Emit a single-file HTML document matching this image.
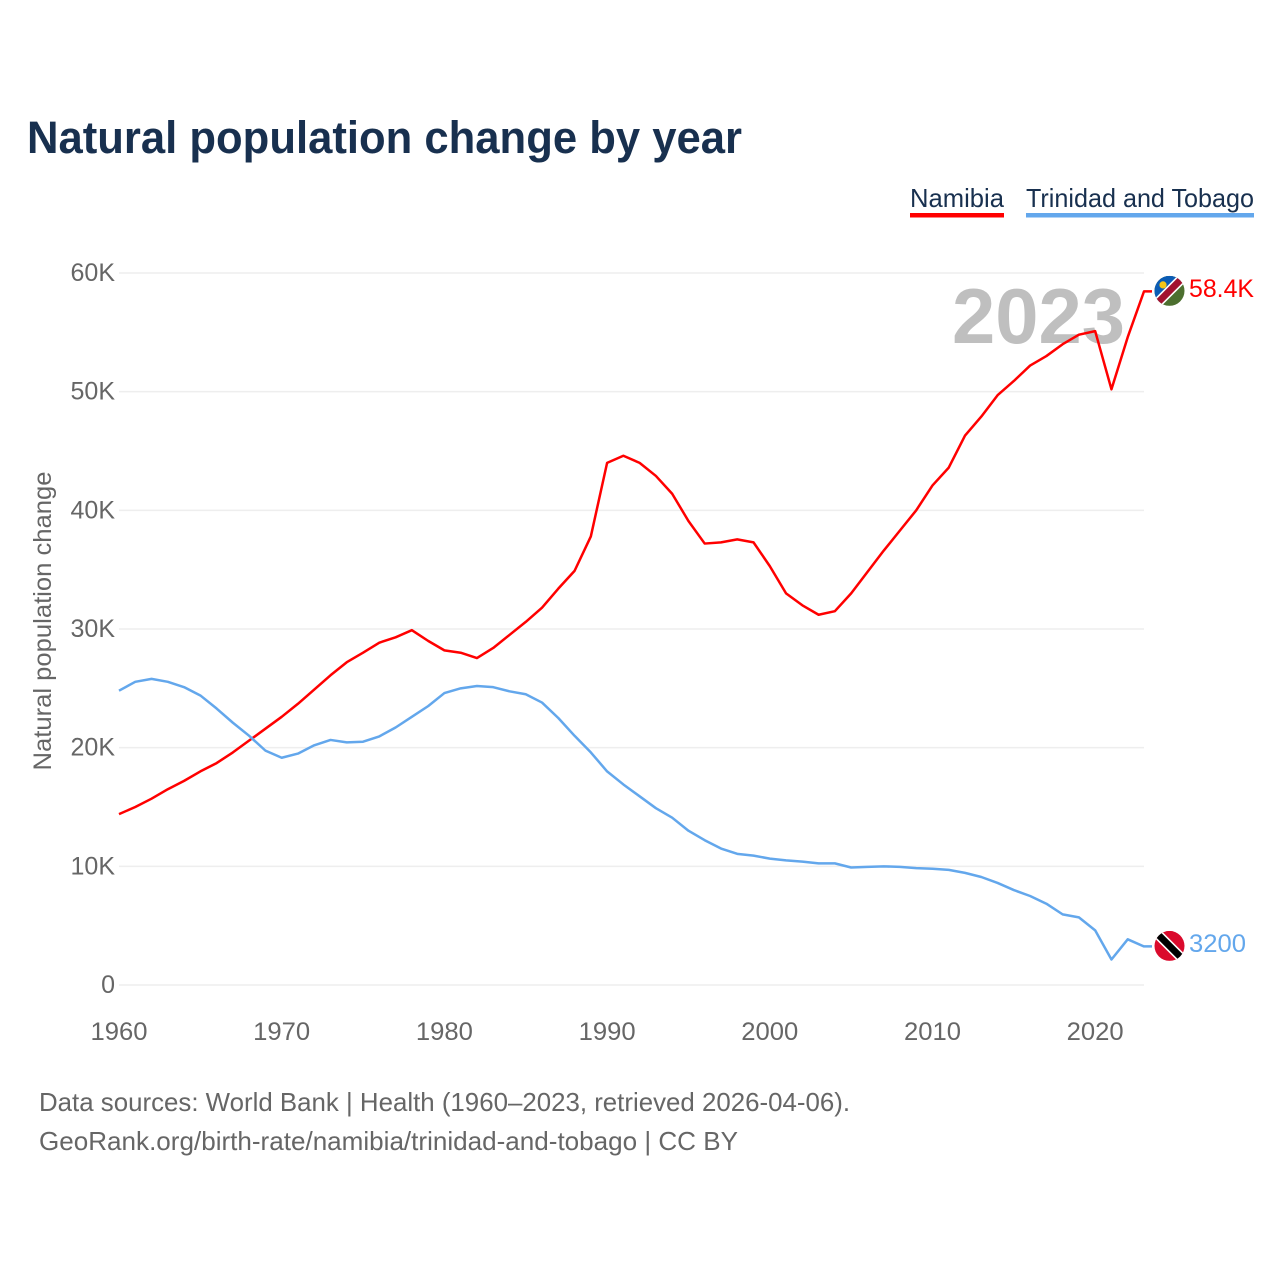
<!DOCTYPE html>
<html lang="en">
<head>
<meta charset="utf-8">
<title>Natural population change by year</title>
<style>
html,body{margin:0;padding:0;background:#fff;}
svg{display:block;font-family:"Liberation Sans",sans-serif;}
.tick{font-size:25px;fill:#666;}
.foot{font-size:26px;fill:#666;}
</style>
</head>
<body>
<svg id="chart" xmlns="http://www.w3.org/2000/svg" width="1280" height="1280" viewBox="0 0 1280 1280">
<rect width="1280" height="1280" fill="#fff"/>
<text x="27" y="153" font-size="45" font-weight="700" fill="#18304f" textLength="715" lengthAdjust="spacingAndGlyphs">Natural population change by year</text>

<g>
<g>
<text x="910" y="207" font-size="26" fill="#18304f" textLength="94" lengthAdjust="spacingAndGlyphs">Namibia</text>
<rect x="910" y="213" width="94" height="4.5" fill="#ff0000"/>
</g>
<g>
<text x="1026" y="207" font-size="26" fill="#18304f" textLength="228" lengthAdjust="spacingAndGlyphs">Trinidad and Tobago</text>
<rect x="1026" y="213" width="228" height="4.5" fill="#63a7ec"/>
</g>
</g>

<g id="grid"></g>
<g id="yticks"></g>
<g id="xticks"></g>

<text transform="translate(51,621) rotate(-90)" text-anchor="middle" font-size="25" fill="#666" textLength="299" lengthAdjust="spacingAndGlyphs">Natural population change</text>

<text id="year-label" x="952" y="343" font-size="78" font-weight="700" fill="#bfbfbf" textLength="173" lengthAdjust="spacingAndGlyphs">2023</text>

<g id="series"></g>

<defs>
<clipPath id="flag-clip"><circle cx="0" cy="0" r="15"/></clipPath>
</defs>

<g id="flag-namibia">
<g clip-path="url(#flag-clip)">
<rect x="-15" y="-15" width="30" height="30" fill="#4c6f2f"/>
<polygon points="-15,-15 15,-15 -15,15" fill="#0b5cb5"/>
<rect x="-24" y="-5" width="48" height="10" fill="#ffffff" transform="rotate(-45)"/>
<rect x="-24" y="-3.4" width="48" height="6.8" fill="#a2122f" transform="rotate(-45)"/>
<circle cx="-6.5" cy="-6" r="3.6" fill="#f5c518"/>
</g>
</g>

<g id="flag-trinidad">
<g clip-path="url(#flag-clip)">
<rect x="-15" y="-15" width="30" height="30" fill="#da0a2c"/>
<rect x="-24" y="-5" width="48" height="10" fill="#ffffff" transform="rotate(45)"/>
<rect x="-24" y="-3.4" width="48" height="6.8" fill="#000000" transform="rotate(45)"/>
</g>
</g>

<text id="value-namibia" x="1189" font-size="25" fill="#ff0000" textLength="65" lengthAdjust="spacingAndGlyphs">58.4K</text>
<text id="value-trinidad" x="1189" font-size="25" fill="#63a7ec" textLength="57" lengthAdjust="spacingAndGlyphs">3200</text>

<text class="foot" x="39" y="1111" textLength="811" lengthAdjust="spacingAndGlyphs">Data sources: World Bank | Health (1960–2023, retrieved 2026-04-06).</text>
<text class="foot" x="39" y="1150" textLength="699" lengthAdjust="spacingAndGlyphs">GeoRank.org/birth-rate/namibia/trinidad-and-tobago | CC BY</text>
</svg>

<script>
const startYear = 1960;
const endYear = 2023;
const xTickYears = [1960, 1970, 1980, 1990, 2000, 2010, 2020];
const yTickValues = [0, 10, 20, 30, 40, 50, 60];
const yTickLabels = ['0', '10K', '20K', '30K', '40K', '50K', '60K'];
const namibiaValues = [
  14.4, 15.0, 15.7, 16.5, 17.2, 18.0, 18.7, 19.6, 20.6, 21.6,
  22.6, 23.7, 24.9, 26.1, 27.2, 28.0, 28.85, 29.3, 29.9, 29.0,
  28.2, 28.0, 27.55, 28.4, 29.5, 30.6, 31.8, 33.4, 34.9, 37.8,
  44.0, 44.6, 44.0, 42.9, 41.4, 39.1, 37.2, 37.3, 37.55, 37.3,
  35.3, 33.0, 32.0, 31.2, 31.5, 33.0, 34.8, 36.6, 38.3, 40.0,
  42.1, 43.6, 46.3, 47.9, 49.7, 50.9, 52.2, 53.0, 54.0, 54.8,
  55.1, 50.2, 54.6, 58.45
];
const trinidadValues = [
  24.8, 25.55, 25.8, 25.55, 25.1, 24.4, 23.3, 22.1, 21.0, 19.75,
  19.15, 19.5, 20.2, 20.65, 20.45, 20.5, 20.95, 21.7, 22.6, 23.5,
  24.6, 25.0, 25.2, 25.1, 24.75, 24.5, 23.8, 22.5, 21.0, 19.6,
  18.0, 16.9, 15.9, 14.9, 14.1, 13.0, 12.2, 11.5, 11.05, 10.9,
  10.65, 10.5, 10.4, 10.25, 10.25, 9.9, 9.95, 10.0, 9.95, 9.85,
  9.8, 9.7, 9.45, 9.1, 8.6, 8.0, 7.5, 6.85, 5.95, 5.7,
  4.6, 2.15, 3.85, 3.25
];

const NS = 'http://www.w3.org/2000/svg';
const plotLeft = 119, plotRight = 1144, plotTop = 273, plotBottom = 985;
const yMax = 60;
function xScale(year) {
  return plotLeft + (year - startYear) * (plotRight - plotLeft) / (endYear - startYear);
}
function yScale(value) {
  return plotBottom - value * (plotBottom - plotTop) / yMax;
}

const gridGroup = document.getElementById('grid');
const yTickGroup = document.getElementById('yticks');
yTickValues.forEach(function (value, i) {
  const line = document.createElementNS(NS, 'line');
  
  
  line.setAttribute('x1', plotLeft);
  line.setAttribute('x2', plotRight);
  line.setAttribute('y1', yScale(value));
  line.setAttribute('y2', yScale(value));
  line.setAttribute('stroke', '#eeeeee');
  line.setAttribute('stroke-width', '1.5');
  gridGroup.appendChild(line);

  const label = document.createElementNS(NS, 'text');
  
  
  label.setAttribute('class', 'tick');
  label.setAttribute('x', 115);
  label.setAttribute('y', yScale(value) + 8);
  label.setAttribute('text-anchor', 'end');
  label.textContent = yTickLabels[i];
  yTickGroup.appendChild(label);
});

const xTickGroup = document.getElementById('xticks');
xTickYears.forEach(function (year) {
  const label = document.createElementNS(NS, 'text');
  
  
  label.setAttribute('class', 'tick');
  label.setAttribute('x', xScale(year));
  label.setAttribute('y', 1040);
  label.setAttribute('text-anchor', 'middle');
  label.setAttribute('textLength', '57');
  label.setAttribute('lengthAdjust', 'spacingAndGlyphs');
  label.textContent = String(year);
  xTickGroup.appendChild(label);
});

function seriesPath(values) {
  let d = '';
  values.forEach(function (value, i) {
    d += (i === 0 ? 'M' : 'L') + xScale(startYear + i).toFixed(2) + ' ' + yScale(value).toFixed(2);
  });
  d += 'H' + (plotRight + 8);
  return d;
}

const seriesGroup = document.getElementById('series');
const namibiaLine = document.createElementNS(NS, 'path');


namibiaLine.setAttribute('d', seriesPath(namibiaValues));
namibiaLine.setAttribute('fill', 'none');
namibiaLine.setAttribute('stroke', '#ff0000');
namibiaLine.setAttribute('stroke-width', '2.5');
namibiaLine.setAttribute('stroke-linejoin', 'round');
seriesGroup.appendChild(namibiaLine);

const trinidadLine = document.createElementNS(NS, 'path');


trinidadLine.setAttribute('d', seriesPath(trinidadValues));
trinidadLine.setAttribute('fill', 'none');
trinidadLine.setAttribute('stroke', '#63a7ec');
trinidadLine.setAttribute('stroke-width', '2.5');
trinidadLine.setAttribute('stroke-linejoin', 'round');
seriesGroup.appendChild(trinidadLine);

const namibiaEndY = yScale(namibiaValues[namibiaValues.length - 1]);
const trinidadEndY = yScale(trinidadValues[trinidadValues.length - 1]);
document.getElementById('flag-namibia').setAttribute('transform', 'translate(1169.5,' + (namibiaEndY - 0.5) + ')');
document.getElementById('flag-trinidad').setAttribute('transform', 'translate(1169.5,' + (trinidadEndY - 0.5) + ')');
document.getElementById('value-namibia').setAttribute('y', namibiaEndY + 5.5);
document.getElementById('value-trinidad').setAttribute('y', trinidadEndY + 5.5);
</script>
</body>
</html>
